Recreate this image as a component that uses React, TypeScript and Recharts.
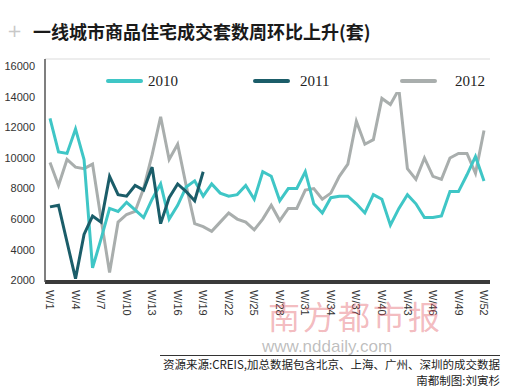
import React from 'react';
import { LineChart, Line, XAxis, YAxis, CartesianGrid, Legend } from 'recharts';

// weekly values
const weeks = Array.from({ length: 52 }, (_, i) => `W/${i + 1}`);

const sales2010 = [
  12600, 10400, 10300, 11900, 9900, 2800, 4700, 6700, 6500, 7100,
  6600, 6100, 7300, 8300, 6000, 6900, 8100, 8500, 7500, 8300,
  7700, 7500, 7600, 8200, 7300, 9100, 8800, 7200, 8000, 8000,
  9100, 7000, 6400, 7400, 7500, 7500, 7000, 6400, 7600, 7300,
  5600, 6700, 7600, 7000, 6100, 6100, 6200, 7800, 7800, 8900,
  10100, 8500,
];

const sales2011 = [
  6800, 6900, 4500, 2100, 5000, 6200, 5800, 8800, 7600, 7500,
  8200, 7900, 9400, 5700, 7400, 8300, 7800, 7200, 9100,
];

const sales2012 = [
  9700, 8200, 9900, 9400, 9300, 9600, 6000, 2500, 5800, 6300,
  6500, 8000, 10200, 12700, 9900, 10900, 8200, 5700, 5500, 5200,
  5800, 6400, 6000, 5800, 5300, 6000, 6900, 5900, 6700, 6700,
  7900, 8000, 7300, 7700, 8800, 9600, 12400, 10900, 11200, 13900,
  13500, 14500, 9300, 8600, 10000, 8800, 8600, 10000, 10300, 10300,
  9000, 11800,
];

const yTicks = [2000, 4000, 6000, 8000, 10000, 12000, 14000, 16000];
const gridTicks = [1, 2, 3, 4, 5, 6, 7, 8];

const data = weeks.map((w, i) => ({
  week: w,
  y2010: sales2010[i],
  y2011: sales2011[i],
  y2012: sales2012[i],
}));

const C2010 = '#3fc6c6';
const C2011 = '#1b5d69';
const C2012 = '#a9aead';

const legendItems = [
  { label: '2010', color: C2010, lineLeft: 6, textLeft: 48 },
  { label: '2011', color: C2011, lineLeft: 153, textLeft: 200 },
  { label: '2012', color: C2012, lineLeft: 300, textLeft: 355 },
];

const renderLegend = () => (
  <div style={{ position: 'relative', width: 345, height: 22, background: '#fff' }}>
    {legendItems.map((it) => (
      <React.Fragment key={it.label}>
        <div
          style={{
            position: 'absolute',
            left: it.lineLeft,
            top: 9,
            width: 37,
            height: 4,
            borderRadius: 2,
            background: it.color,
          }}
        />
        <div
          style={{
            position: 'absolute',
            left: it.textLeft,
            top: 2,
            fontFamily: '"Liberation Serif", serif',
            fontSize: 15,
            lineHeight: '18px',
            color: '#222',
          }}
        >
          {it.label}
        </div>
      </React.Fragment>
    ))}
  </div>
);

const WeekTick = ({ x, y, payload }: any) => (
  <g transform={`translate(${x},${y})`}>
    <text
      transform="rotate(90)"
      x={0}
      y={0}
      dy="0.35em"
      textAnchor="start"
      fontSize={11}
      fontFamily='"Liberation Sans", sans-serif'
      fill="#333"
    >
      {payload.value}
    </text>
  </g>
);

const noteStyle: React.CSSProperties = {
  position: 'absolute',
  right: 19,
  fontFamily: '"Noto Sans CJK SC", sans-serif',
  fontSize: 11.5,
  lineHeight: '13px',
  color: '#222',
  whiteSpace: 'nowrap',
  textAlign: 'right',
};

export default function App() {
  return (
    <div
      style={{
        position: 'fixed',
        left: 0,
        top: 0,
        width: 519,
        height: 387,
        background: '#fff',
        overflow: 'hidden',
      }}
    >
      <div style={{ position: 'absolute', left: 7, top: 20, fontSize: 18, color: '#c8c8c8', fontFamily: '"DejaVu Sans", sans-serif' }}>+</div>
      <div
        style={{
          position: 'absolute',
          left: 33,
          top: 21,
          fontFamily: '"Noto Sans CJK SC", sans-serif',
          fontWeight: 700,
          fontSize: 18,
          lineHeight: '20px',
          color: '#1a1a1a',
          whiteSpace: 'nowrap',
        }}
      >
        一线城市商品住宅成交套数周环比上升(套)
      </div>

      <LineChart
        width={519}
        height={387}
        data={data}
        margin={{ top: 59, right: 29, bottom: 43, left: 8 }}
      >
        <CartesianGrid yAxisId="grid" vertical={false} stroke="#dcdcdc" strokeWidth={1.2} />
        <YAxis
          yAxisId="grid"
          type="number"
          domain={[0, 8]}
          ticks={gridTicks}
          hide
        />
        <XAxis
          dataKey="week"
          interval={2}
          padding={{ left: 5, right: 6 }}
          axisLine={{ stroke: '#3a3a3a', strokeWidth: 4 }}
          tickLine={false}
          tickSize={0}
          tickMargin={8}
          height={40}
          tick={<WeekTick />}
        />
        <YAxis
          type="number"
          domain={[1880, 16480]}
          allowDataOverflow
          ticks={yTicks}
          width={37}
          axisLine={{ stroke: '#555', strokeWidth: 1.5 }}
          tickLine={false}
          tickSize={0}
          tickMargin={10}
          tick={{ fontSize: 11, fill: '#333', fontFamily: '"Liberation Sans", sans-serif' }}
        />
        <Legend
          content={renderLegend}
          wrapperStyle={{ position: 'absolute', left: 100, top: 70, width: 345 }}
        />
        <Line
          type="linear"
          dataKey="y2012"
          stroke={C2012}
          strokeWidth={3}
          dot={false}
          isAnimationActive={false}
        />
        <Line
          type="linear"
          dataKey="y2010"
          stroke={C2010}
          strokeWidth={3}
          dot={false}
          isAnimationActive={false}
        />
        <Line
          type="linear"
          dataKey="y2011"
          stroke={C2011}
          strokeWidth={3}
          dot={false}
          isAnimationActive={false}
        />
      </LineChart>

      {/* watermark */}
      <div
        style={{
          position: 'absolute',
          left: 268,
          top: 298,
          fontFamily: '"Noto Sans CJK SC", sans-serif',
          fontSize: 32,
          lineHeight: '34px',
          color: 'rgba(225, 80, 90, 0.4)',
          letterSpacing: 3,
          pointerEvents: 'none',
        }}
      >
        南方都市报
      </div>
      <div
        style={{
          position: 'absolute',
          left: 262,
          top: 338,
          fontFamily: '"Liberation Sans", sans-serif',
          fontSize: 17,
          lineHeight: '17px',
          color: 'rgba(110, 110, 110, 0.45)',
        }}
      >
        www.nddaily.com
      </div>

      {/* source note */}
      <div style={{ position: 'absolute', left: 160, top: 355, width: 340, height: 1, background: '#333' }} />
      <div style={{ ...noteStyle, top: 358 }}>
        资源来源:CREIS,加总数据包含北京、上海、广州、深圳的成交数据
      </div>
      <div style={{ ...noteStyle, top: 374 }}>南都制图:刘寅杉</div>
    </div>
  );
}
